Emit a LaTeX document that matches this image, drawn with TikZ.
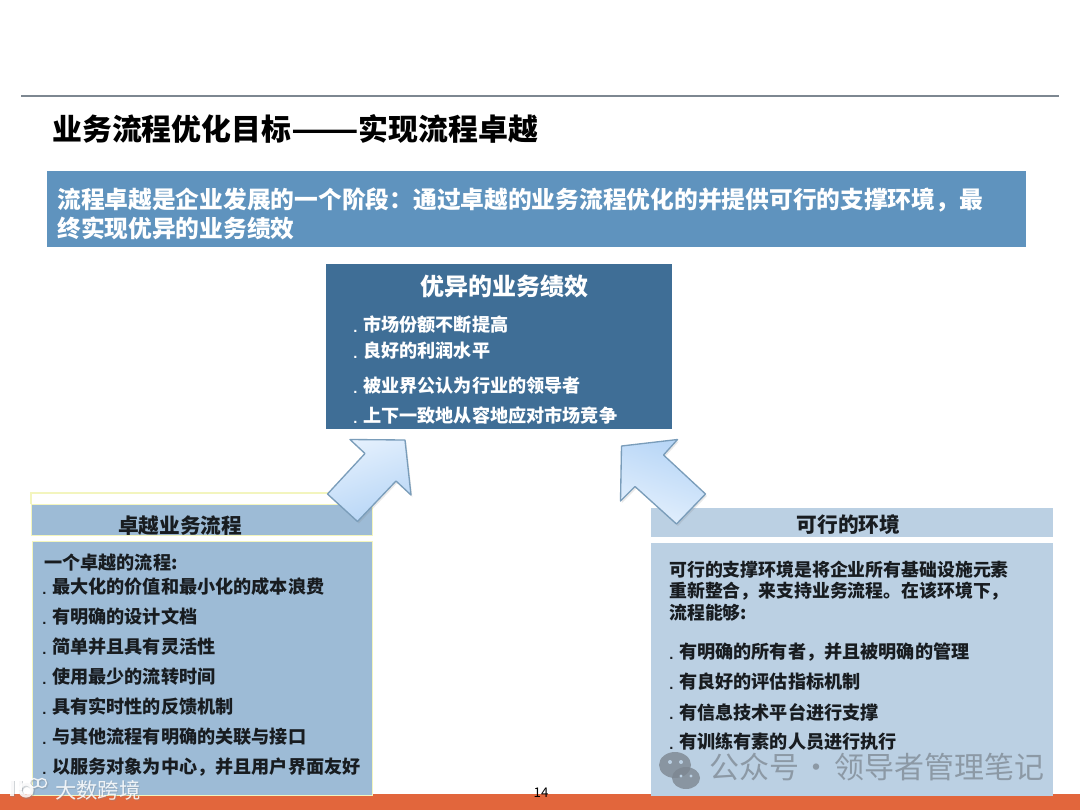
\documentclass[tikz,border=0pt]{standalone}
\usepackage{graphicx}
\usepackage{fontspec}
\setmainfont{Noto Sans CJK SC}
\newfontfamily\dotfont{Liberation Sans}
\usetikzlibrary{positioning,shadows}
\definecolor{pgline}{RGB}{125,135,145}
\definecolor{pgbanner}{RGB}{95,147,190}
\definecolor{pgperf}{RGB}{63,110,150}
\definecolor{pgleft}{RGB}{157,187,214}
\definecolor{pgright}{RGB}{187,208,227}
\definecolor{pgedge}{RGB}{243,245,190}
\definecolor{pgfoot}{RGB}{226,102,60}
\definecolor{pgarrow}{RGB}{122,157,186}
\definecolor{pgarrowa}{RGB}{228,240,253}
\definecolor{pgarrowb}{RGB}{182,213,246}
\definecolor{pgink}{RGB}{24,28,32}
\newcommand{\fs}[1]{\fontsize{#1}{#1}\selectfont\bfseries}
\begin{document}
\begin{tikzpicture}[
  x=0.75pt,y=-0.75pt,
  block/.style={minimum width=#1,inner sep=0pt,anchor=north west},
  line/.style={anchor=west,inner sep=0pt,text=pgink,font=\fs{13.6}},
  para/.style={line,font=\fs{13.4}},
  wline/.style={line,text=white},
  head/.style={inner sep=0pt,text=pgink,font=\fs{15.5}},
  dotmark/.style={inner sep=0pt,anchor=west,yshift=-4.5pt,text=pgink,font=\dotfont\bfseries\fontsize{11}{11}\selectfont},
  wdot/.style={dotmark,text=white},
  bigarrow/.style={draw=pgarrow,line width=1pt,line join=round,
    drop shadow={opacity=.18,shadow xshift=1pt,shadow yshift=-1.5pt}},
  wmark/.style={inner sep=0pt,text=pgline,opacity=.75},
  logo/.style={line width=2pt,white,opacity=.85}
]
  \useasboundingbox (0,0) rectangle (1080,810);
  \fill[white] (0,0) rectangle (1080,810);

  \draw[pgline,line width=.8pt] (21,96) -- (1059,96);
  \node[anchor=west,inner sep=0pt,text=black,font=\fs{22.4}] (title) at (52,129) {业务流程优化目标\scalebox{1.32}[1]{——}实现流程卓越};

  \node[block=734.25pt,minimum height=57pt,fill=pgbanner] (banner) at (47,171) {};
  \node[anchor=west,inner sep=0pt,text=white,font=\fs{17.8}] (bannera) at (57,200) {流程卓越是企业发展的一个阶段：通过卓越的业务流程优化的并提供可行的支撑环境，最};
  \node[anchor=west,inner sep=0pt,text=white,font=\fs{17.8}] (bannerb) at (57,228) {终实现优异的业务绩效};

  \node[block=259.5pt,minimum height=123.75pt,fill=pgperf] (perf) at (326,264) {};
  \node[inner sep=0pt,text=white,font=\fs{18}] (perfhead) at (504.5,286) {优异的业务绩效};
  \foreach \i/\y/\t in {a/325/市场份额不断提高,b/351/良好的利润水平,c/386/被业界公认为行业的领导者,d/416/上下一致地从容地应对市场竞争}{
    \node[wdot] (perfdot\i) at (353,\y) {.};
    \node[wline] (perf\i) at (363,\y) {\t};
  }

  \fill[pgfoot] (0,794) rectangle (1080,810);

  \draw[pgedge,line width=1pt] (31,504) -- (31,493) -- (373,493) -- (373,504);
  \node[block=255.75pt,minimum height=23.5pt,fill=pgleft,draw=pgedge,line width=.8pt] (lefthead) at (31,504) {};
  \node[block=255pt,minimum height=190.5pt,fill=pgleft,draw=pgedge,line width=.8pt] (leftbody) at (32,541) {};
  \node[head] (lefttitle) at (180,526) {卓越业务流程};
  \node[line] (leftfirst) at (44,563) {一个卓越的流程:};
  \foreach \i/\y/\t in {a/587/最大化的价值和最小化的成本浪费,b/617/有明确的设计文档,c/647/简单并且具有灵活性,d/677/使用最少的流转时间,e/707/具有实时性的反馈机制,f/737/与其他流程有明确的关联与接口,g/767/以服务对象为中心，并且用户界面友好}{
    \node[dotmark] (leftdot\i) at (42,\y) {.};
    \node[line] (left\i) at (52,\y) {\t};
  }

  \node[block=301.5pt,minimum height=21.75pt,fill=pgright] (righthead) at (651,508) {};
  \node[block=301.5pt,minimum height=189.75pt,fill=pgright] (rightbody) at (651,543) {};
  \node[head] (righttitle) at (848.5,525) {可行的环境};
  \node[para] (rightp) at (669,570) {可行的支撑环境是将企业所有基础设施元素};
  \node[para] (rightq) at (669,591) {重新整合，来支持业务流程。在该环境下，};
  \node[para] (rightr) at (669,613) {流程能够:};
  \foreach \i/\y/\t in {a/652/有明确的所有者，并且被明确的管理,b/682/有良好的评估指标机制,c/712/有信息技术平台进行支撑,d/742/有训练有素的人员进行执行}{
    \node[dotmark] (rightdot\i) at (669,\y) {.};
    \node[line] (right\i) at (679,\y) {\t};
  }

  \draw[bigarrow,left color=pgarrowa,right color=pgarrowb,shading angle=20]
    (350,439.5) -- (405,440) -- (411,495) -- (396,481) -- (357.5,521.5) -- (327.5,494) -- (365,453.5) -- cycle;
  \draw[bigarrow,left color=pgarrowb,right color=pgarrowa,shading angle=-20]
    (621.5,446) -- (677.5,439.5) -- (663.5,455) -- (705.5,494) -- (676.5,524) -- (635,486.5) -- (620.5,501) -- cycle;

  \node[inner sep=0pt,text=black,font=\fontsize{10}{10}\selectfont] (page) at (541,793) {14};

  \fill[pgline,opacity=.8] (675,765) ellipse (16 and 13);
  \fill[pgline,opacity=.8] (686,778) ellipse (14 and 11);
  \fill[pgright] (670,762) circle (2) (681,762) circle (2) (681,776) circle (1.6) (691,776) circle (1.6);
  \node[wmark,anchor=west,font=\fontsize{22.5}{22.5}\selectfont] (wechat) at (709,767) {公众号\hspace{2pt}·\hspace{2pt}领导者管理笔记};

  \begin{scope}[shift={(1,1)},opacity=.35]
    \draw[pgline,line width=3pt] (12,780) -- (12,796) (20,780) -- (20,790);
    \draw[pgline,line width=3pt] (26,790) circle (6);
    \draw[pgline,line width=1.6pt] (34,783) circle (4.5) (42,783) circle (4.5);
    \node[inner sep=0pt,anchor=west,text=pgline,font=\fontsize{16}{16}\selectfont] (brandshade) at (55,790) {大数跨境};
  \end{scope}
  \draw[logo,line width=2.4pt] (12,780) -- (12,796) (20,780) -- (20,790);
  \draw[logo,line width=2.4pt] (26,790) circle (6);
  \draw[logo,line width=1pt] (34,783) circle (4.5) (42,783) circle (4.5);
  \node[inner sep=0pt,anchor=west,text=white,opacity=.85,font=\fontsize{16}{16}\selectfont] (brand) at (55,790) {大数跨境};
\end{tikzpicture}
\end{document}
